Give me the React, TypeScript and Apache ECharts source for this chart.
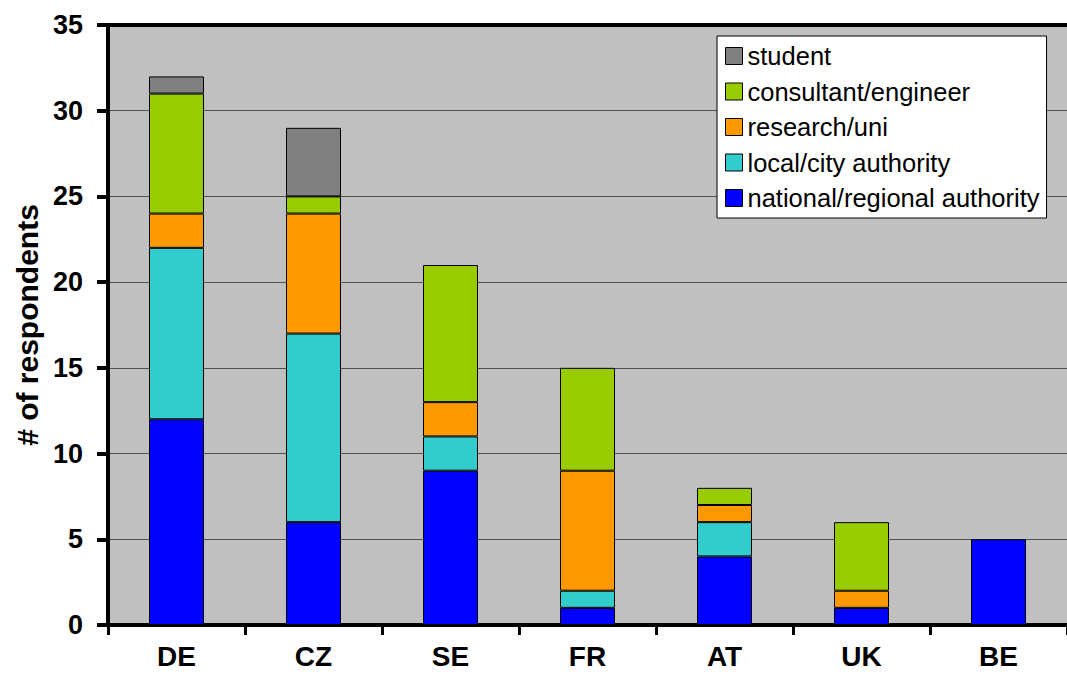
import React, { useEffect, useRef } from "react";
import * as echarts from "echarts";

const categories = ["DE", "CZ", "SE", "FR", "AT", "UK", "BE"];
const national = [12, 6, 9, 1, 4, 1, 5];
const local = [10, 11, 2, 1, 2, 0, 0];
const research = [2, 7, 2, 7, 1, 1, 0];
const consultant = [7, 1, 8, 6, 1, 4, 0];
const student = [1, 4, 0, 0, 0, 0, 0];
const yTicks = [0, 5, 10, 15, 20, 25, 30, 35];

export default function App() {
  const ref = useRef<HTMLDivElement>(null);
  useEffect(() => {
    document.body.style.margin = "0";
    const chart = echarts.init(ref.current!, null, { renderer: "svg" });
    const font = "Liberation Sans, Arial, sans-serif";
    const mk = (name: string, data: number[], color: string) => ({
      name,
      type: "bar",
      stack: "total",
      data: data.map((v) => (v === 0 ? null : v)),
      barWidth: 55,
      itemStyle: { color, borderColor: "#000", borderWidth: 1 },
    });
    chart.setOption({
      animation: false,
      textStyle: { fontFamily: font },
      grid: {
        left: 108,
        top: 25,
        width: 969,
        height: 600,
        show: true,
        backgroundColor: "#c0c0c0",
        borderColor: "#000",
        borderWidth: 0,
      },
      legend: {
        orient: "vertical",
        left: 717,
        top: 36,
        data: ["student", "consultant/engineer", "research/uni", "local/city authority", "national/regional authority"],
        backgroundColor: "#fff",
        borderColor: "#000",
        borderWidth: 1,
        padding: [7, 7, 7, 8],
        itemWidth: 17,
        itemHeight: 17,
        itemGap: 9.5,
        icon: "rect",
        itemStyle: { borderColor: "#000", borderWidth: 1 },
        textStyle: { fontSize: 25.5, color: "#000", fontFamily: font },
        selectedMode: false,
      },
      xAxis: [
        {
          type: "category",
          data: categories,
          axisLine: { lineStyle: { color: "#000", width: 4 } },
          axisTick: { show: true, length: 10, lineStyle: { color: "#000", width: 3 } },
          axisLabel: { fontSize: 28, fontWeight: "bold", color: "#000", margin: 17, fontFamily: font },
        },
        {
          type: "category",
          data: categories,
          position: "top",
          axisLine: { show: true, lineStyle: { color: "#000", width: 4 } },
          axisTick: { show: false },
          axisLabel: { show: false },
        },
      ],
      yAxis: {
        type: "value",
        min: 0,
        max: yTicks[yTicks.length - 1],
        interval: 5,
        name: "# of respondents",
        nameLocation: "middle",
        nameGap: 63,
        nameTextStyle: { fontSize: 30, fontWeight: "bold", color: "#000", fontFamily: font },
        axisLine: { show: true, onZero: false, lineStyle: { color: "#000", width: 4 } },
        axisTick: { show: true, length: 11, lineStyle: { color: "#000", width: 4 } },
        axisLabel: { fontSize: 27, fontWeight: "bold", color: "#000", margin: 25, fontFamily: font },
        splitLine: { lineStyle: { color: "#505050", width: 1 } },
      },
      series: [
        mk("national/regional authority", national, "#0000ff"),
        mk("local/city authority", local, "#33cccc"),
        mk("research/uni", research, "#ff9900"),
        mk("consultant/engineer", consultant, "#99cc00"),
        mk("student", student, "#808080"),
      ],
    });
    return () => chart.dispose();
  }, []);
  return <div ref={ref} style={{ width: 1067, height: 679 }} />;
}
